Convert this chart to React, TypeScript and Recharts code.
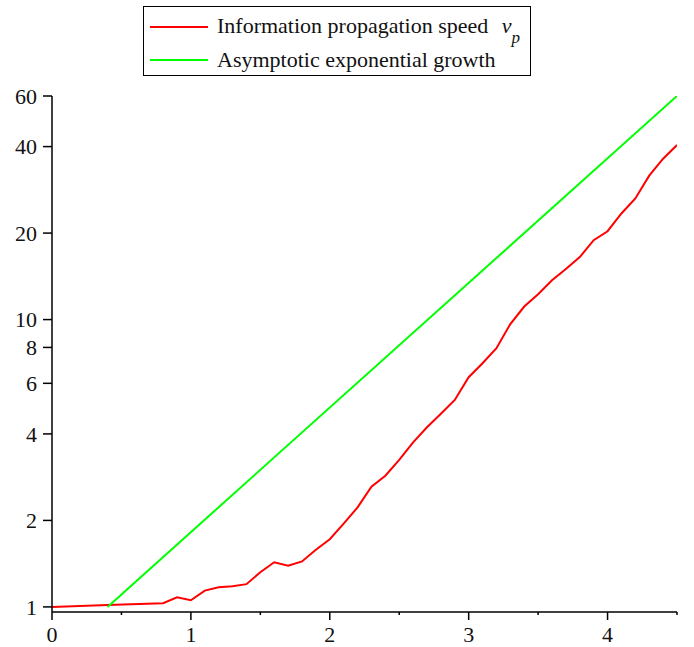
import React from 'react';
import { LineChart, Line, XAxis, YAxis, Legend } from 'recharts';

const speedX = [0, 0.4, 0.8, 0.9, 1.0, 1.1, 1.2, 1.3, 1.4, 1.5, 1.6, 1.7, 1.8, 1.9, 2.0, 2.1, 2.2, 2.3, 2.4, 2.5, 2.6, 2.7, 2.8, 2.9, 3.0, 3.1, 3.2, 3.3, 3.4, 3.5, 3.6, 3.7, 3.8, 3.9, 4.0, 4.1, 4.2, 4.3, 4.4, 4.5];
const speedY = [1.0, 1.015, 1.03, 1.08, 1.055, 1.14, 1.17, 1.18, 1.2, 1.32, 1.43, 1.39, 1.44, 1.58, 1.72, 1.95, 2.22, 2.62, 2.86, 3.25, 3.74, 4.22, 4.7, 5.25, 6.3, 7.05, 7.95, 9.65, 11.1, 12.25, 13.7, 15.0, 16.5, 18.9, 20.3, 23.4, 26.4, 31.7, 36.3, 40.5];

const growthX = [0.4, 4.5];
const growthY = [1.0, 60];

const yTicks = [1, 2, 4, 6, 8, 10, 20, 40, 60];
const xTicks = [0, 0.5, 1, 1.5, 2, 2.5, 3, 3.5, 4, 4.5];
const xLabels = ['0', '', '1', '', '2', '', '3', '', '4', ''];

const speedData = speedX.map((x, i) => ({ x, v: speedY[i] }));
const growthData = growthX.map((x, i) => ({ x, v: growthY[i] }));

const FONT = '"Liberation Serif", "DejaVu Serif", serif';

const XTick = (props: any) => {
  const { x, y, index } = props;
  const label = xLabels[index] ?? '';
  const major = label !== '';
  return (
    <g>
      <line x1={x} x2={x} y1={y} y2={y + (major ? 8 : 3)} stroke="#000" strokeWidth={1.5} />
      {major && (
        <text x={x} y={y + 30} textAnchor="middle" fontSize={22} fontFamily={FONT} fill="#111">
          {label}
        </text>
      )}
    </g>
  );
};

const LegendBox = () => (
  <div
    style={{
      width: 388,
      height: 70,
      border: '1.5px solid #000',
      background: '#fff',
      fontFamily: FONT,
      fontSize: 22,
      color: '#111',
      position: 'relative',
      boxSizing: 'border-box',
    }}
  >
    <div style={{ position: 'absolute', left: 6, top: 19, width: 58, height: 2, background: '#ff0000' }} />
    <div style={{ position: 'absolute', left: 73, top: 6, whiteSpace: 'nowrap', lineHeight: '26px' }}>
      Information propagation speed{' '}
      <span style={{ fontStyle: 'italic', marginLeft: 8 }}>v</span>
      <span style={{ fontStyle: 'italic', fontSize: 17, position: 'relative', top: 10 }}>p</span>
    </div>
    <div style={{ position: 'absolute', left: 6, top: 52, width: 58, height: 2, background: '#00ff00' }} />
    <div style={{ position: 'absolute', left: 73, top: 40, whiteSpace: 'nowrap', lineHeight: '26px' }}>
      Asymptotic exponential growth
    </div>
  </div>
);

export default function App() {
  return (
    <div style={{ position: 'absolute', left: 0, top: 0, width: 694, height: 647, background: '#fff' }}>
      <LineChart width={694} height={647} margin={{ top: 96, right: 17, bottom: 0, left: 0 }}>
        <XAxis
          dataKey="x"
          type="number"
          domain={[0, 4.5]}
          ticks={xTicks}
          allowDataOverflow
          height={35}
          tickSize={0}
          tickMargin={0}
          tickLine={false}
          tick={<XTick />}
          axisLine={{ stroke: '#000', strokeWidth: 1.5 }}
          interval={0}
        />
        <YAxis
          dataKey="v"
          type="number"
          scale="log"
          domain={[0.96, 60]}
          allowDataOverflow
          ticks={yTicks}
          interval={0}
          width={52}
          tickSize={9}
          tickMargin={6}
          tick={{ fontSize: 22, fontFamily: FONT, fill: '#111' }}
          tickLine={{ stroke: '#000', strokeWidth: 1.5 }}
          axisLine={{ stroke: '#000', strokeWidth: 1.5 }}
        />
        <Legend
          layout="horizontal"
          verticalAlign="middle"
          align="center"
          wrapperStyle={{ position: 'absolute', left: 143, top: 6, width: 388 }}
          content={() => <LegendBox />}
        />
        <Line
          data={speedData}
          dataKey="v"
          name="Information propagation speed"
          stroke="#ff0000"
          strokeWidth={2}
          dot={false}
          type="linear"
          isAnimationActive={false}
        />
        <Line
          data={growthData}
          dataKey="v"
          name="Asymptotic exponential growth"
          stroke="#00ff00"
          strokeWidth={2}
          dot={false}
          type="linear"
          isAnimationActive={false}
        />
      </LineChart>
    </div>
  );
}
